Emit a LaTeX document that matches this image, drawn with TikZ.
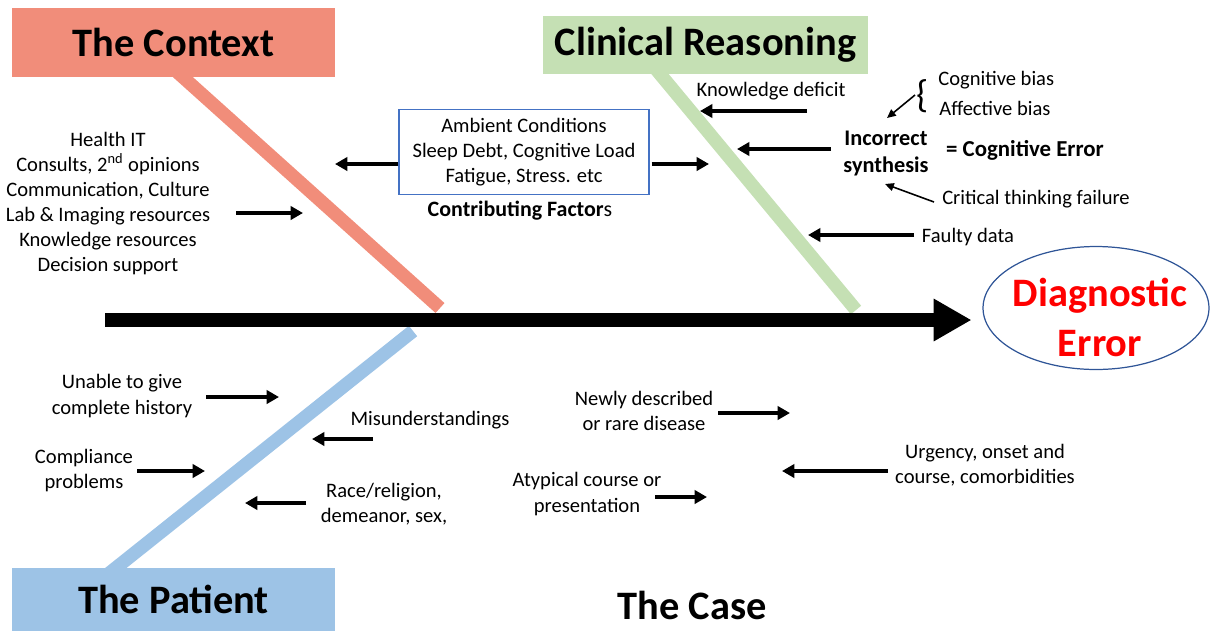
\documentclass[tikz,border=0pt]{standalone}
\usepackage{fontspec}
\setmainfont{Carlito}
\usetikzlibrary{arrows.meta,shapes.geometric}
\definecolor{ctxc}{HTML}{F18D7A}
\definecolor{clinc}{HTML}{C5E0B4}
\definecolor{patc}{HTML}{9DC3E6}
\definecolor{boxc}{HTML}{4472C4}
\definecolor{ellc}{HTML}{2F5597}
\begin{document}
\begin{tikzpicture}[x=0.02cm,y=-0.02cm,
  body/.style={font=\fontsize{11.7}{14.3}\selectfont, inner sep=0pt, align=center},
  title/.style={font=\fontsize{23}{27}\selectfont\bfseries, inner sep=0pt},
  bone/.style={line width=7.6pt},
  arr/.style={line width=2pt, -{Triangle[length=7pt,width=7.5pt]}},
  thinarr/.style={line width=0.9pt, -{Triangle[length=5pt,width=4.5pt]}},
]
\useasboundingbox (0,0) rectangle (1211,630);

% ---- bones (drawn first, title boxes cover their tops)
\coordinate (ctxTop) at (175,70);
\coordinate (ctxEnd) at (440,308);
\coordinate (clinTop) at (655,68);
\coordinate (clinEnd) at (856,310);
\coordinate (patTop) at (413,331);
\coordinate (patBot) at (107,575);
\draw[bone, ctxc] (ctxTop) -- (ctxEnd);
\draw[bone, clinc] (clinTop) -- (clinEnd);
\draw[bone, patc] (patTop) -- (patBot);

% ---- title boxes
\node[title, fill=ctxc, minimum width=6.46cm, minimum height=1.38cm] (ctx) at (173.5,42.5) {The Context};
\node[title, fill=clinc, minimum width=6.5cm, minimum height=1.16cm] (clin) at (705.5,45) {Clinical Reasoning};
\node[title, fill=patc, minimum width=6.46cm, minimum height=1.26cm] (pat) at (173.5,599.5) {The Patient};
\node[title] (case) at (692,605) {The Case};

% ---- outcome
\node[ellipse, draw=ellc, line width=0.7pt, minimum width=4.52cm, minimum height=2.46cm,
      inner sep=0pt] (diag) at (1096,308) {};
\node[align=center, inner sep=0pt, text=red, font=\fontsize{23}{28.4}\selectfont\bfseries] (diagtxt) at (1100,317) {Diagnostic\\Error};

% ---- spine
\coordinate (spineS) at (105,320);
\draw[line width=8pt, -{Triangle[length=21.5pt,width=22.7pt]}, shorten >=6.2pt] (spineS) -- (spineS -| diag.west);

% ---- context side
\node[body] (ctxlist) at (108,203.5) {Health IT\\Consults, 2\textsuperscript{nd} opinions\\Communication, Culture\\Lab \& Imaging resources\\Knowledge resources\\Decision support};
\coordinate (ctxA1) at (236,213); \coordinate (ctxA2) at (303,213);
\draw[arr] (ctxA1) -- (ctxA2);

% ---- contributing factors
\node[body, draw=boxc, line width=0.7pt, minimum width=5cm, minimum height=1.7cm] (factors) at (524,152) {Ambient Conditions\\Sleep Debt, Cognitive Load\\Fatigue, Stress. etc};
\node[body, font=\fontsize{12.5}{15}\selectfont] (factlbl) at (520,211) {\textbf{Contributing Factor}s};
\coordinate (facL) at (335,164); \coordinate (facR) at (709,164);
\draw[arr] (factors.west |- facL) -- (facL);
\draw[arr] (factors.east |- facR) ++(2,0) -- (facR);

% ---- clinical reasoning side
\node[body] (know) at (771,91) {Knowledge deficit};
\coordinate (knowS) at (807,111); \coordinate (knowE) at (700,111);
\draw[arr] (knowS) -- (knowE);

\node[body, font=\fontsize{12.7}{15.9}\selectfont\bfseries] (incorr) at (886,153.5) {Incorrect\\synthesis};
\coordinate (incS) at (831,149); \coordinate (incE) at (737,149);
\draw[arr] (incS) -- (incE);
\node[body, font=\fontsize{13}{15}\selectfont\bfseries] (coger) at (1025,150) {= Cognitive Error};

\node[inner sep=0pt, font=\fontsize{22}{22}\selectfont] (brace) at (923,96) {\{};
\node[body, anchor=west] (cogb) at (938,80) {Cognitive bias};
\node[body, anchor=west] (affb) at (939,108) {Affective bias};
\coordinate (brS) at (915,95); \coordinate (brE) at (887,118);
\draw[thinarr] (brS) -- (brE);

\node[body] (crit) at (1036,199) {Critical thinking failure};
\coordinate (crS) at (934,202); \coordinate (crE) at (885,184);
\draw[thinarr] (crS) -- (crE);

\node[body] (faulty) at (968,237) {Faulty data};
\coordinate (faS) at (914,235); \coordinate (faE) at (808,235);
\draw[arr] (faS) -- (faE);

% ---- patient side
\node[body] (unable) at (122,396) {Unable to give\\complete history};
\coordinate (unS) at (206,397); \coordinate (unE) at (279,397);
\draw[arr] (unS) -- (unE);

\node[body] (compl) at (84,470.5) {Compliance\\problems};
\coordinate (coS) at (137,471); \coordinate (coE) at (205,471);
\draw[arr] (coS) -- (coE);

\node[body] (misund) at (430,420) {Misunderstandings};
\coordinate (miS) at (373,439); \coordinate (miE) at (312,439);
\draw[arr] (miS) -- (miE);

\node[body] (race) at (384,504) {Race/religion,\\demeanor, sex,};
\coordinate (raS) at (306,503); \coordinate (raE) at (245,503);
\draw[arr] (raS) -- (raE);

% ---- case side
\node[body] (newly) at (644,410.5) {Newly described\\or rare disease};
\coordinate (neS) at (718,413); \coordinate (neE) at (790,413);
\draw[arr] (neS) -- (neE);

\node[body] (urg) at (985,465) {Urgency, onset and\\course, comorbidities};
\coordinate (urS) at (888,471); \coordinate (urE) at (782,471);
\draw[arr] (urS) -- (urE);

\node[body] (atyp) at (587,494) {Atypical course or\\presentation};
\coordinate (atS) at (655,497); \coordinate (atE) at (707,497);
\draw[arr] (atS) -- (atE);
\end{tikzpicture}
\end{document}
